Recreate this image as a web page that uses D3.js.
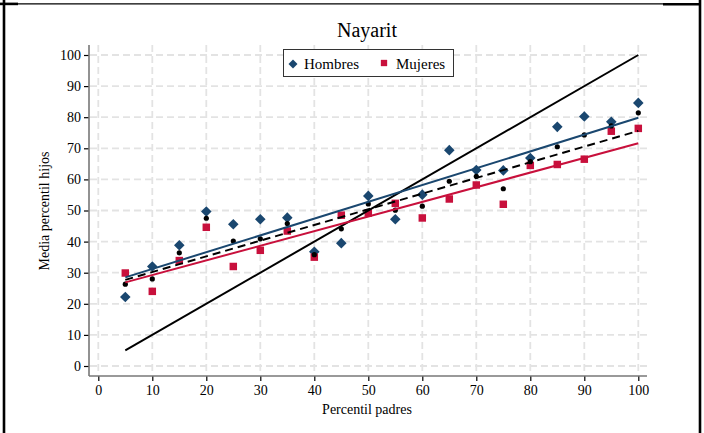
<!DOCTYPE html>
<html>
<head>
<meta charset="utf-8">
<script src="https://cdn.jsdelivr.net/npm/d3@7"></script>
<style>
  html, body { margin: 0; padding: 0; background: #fff; }
  svg { display: block; }
  text { font-family: "Liberation Serif", "Times New Roman", serif; fill: #000; }
</style>
</head>
<body>
<svg id="chart" width="704" height="433"></svg>
<script>
// Parent percentile groups
const percentiles = [5, 10, 15, 20, 25, 30, 35, 40, 45, 50, 55, 60, 65, 70, 75, 80, 85, 90, 95, 100];
// Mean child percentile by group
const hombres = [22.2, 32.0, 38.8, 49.7, 45.6, 47.2, 47.7, 36.7, 39.5, 54.7, 47.2, 55.1, 69.4, 63.0, 62.9, 66.9, 76.9, 80.2, 78.5, 84.6];
const mujeres = [29.9, 24.0, 33.9, 44.6, 32.0, 37.2, 43.4, 35.0, 48.5, 49.2, 52.3, 47.6, 53.7, 58.2, 52.0, 64.5, 64.8, 66.5, 75.5, 76.4];
const total   = [26.3, 28.0, 36.4, 47.5, 40.2, 40.9, 45.8, 35.8, 44.1, 52.1, 50.1, 51.4, 59.4, 61.0, 57.0, 65.7, 70.5, 74.3, 77.2, 81.4];
// Linear fits, value at each end of the range
const fitX       = [5, 100];
const fitHombres = [28.5, 79.8];
const fitMujeres = [26.9, 71.6];
const fitTotal   = [27.7, 75.6];
const diagonal   = [5, 100];
// Axis ticks
const xTicks = [0, 10, 20, 30, 40, 50, 60, 70, 80, 90, 100];
const yTicks = [0, 10, 20, 30, 40, 50, 60, 70, 80, 90, 100];

const colHombres = "#1a476f";
const colMujeres = "#c8103c";

const svg = d3.select("#chart");

// Outer frame
const frame = svg.append("g").attr("stroke", "#000").attr("fill", "none");
frame.append("line").attr("x1", 4).attr("x2", 4).attr("y1", 0).attr("y2", 433).attr("stroke-width", 2.6);
frame.append("line").attr("x1", 700).attr("x2", 700).attr("y1", 0).attr("y2", 433).attr("stroke-width", 2.6);
frame.append("line").attr("x1", 0).attr("x2", 700).attr("y1", 3.8).attr("y2", 3.8).attr("stroke-width", 1.2);
frame.append("line").attr("x1", 0).attr("x2", 18).attr("y1", 3.9).attr("y2", 3.9).attr("stroke-width", 2.6);
frame.append("line").attr("x1", 663).attr("x2", 701).attr("y1", 4.2).attr("y2", 4.2).attr("stroke-width", 2.6);

const x = d3.scaleLinear().domain([0, 100]).range([98.3, 638.3]);
const y = d3.scaleLinear().domain([0, 100]).range([366, 55]);

const plotLeft = 89, plotRight = 647, plotTop = 45, plotBottom = 376;

// Grid
const grid = svg.append("g").attr("stroke", "#e3e3e3").attr("stroke-width", 1.8).attr("stroke-dasharray", "7,4");
grid.selectAll("line.h").data(yTicks).join("line")
  .attr("x1", plotLeft + 1).attr("x2", plotRight)
  .attr("y1", d => y(d)).attr("y2", d => y(d));
grid.selectAll("line.v").data(xTicks).join("line")
  .attr("y1", plotTop).attr("y2", plotBottom - 1)
  .attr("x1", d => x(d)).attr("x2", d => x(d));

// Axes
const yAxis = svg.append("g").attr("transform", `translate(${plotLeft},0)`)
  .call(d3.axisLeft(y).tickValues(yTicks).tickSize(5).tickPadding(3));
yAxis.select(".domain").remove();
const xAxis = svg.append("g").attr("transform", `translate(0,${plotBottom})`)
  .call(d3.axisBottom(x).tickValues(xTicks).tickSize(5).tickPadding(4));
xAxis.select(".domain").remove();
svg.selectAll(".tick text").style("font-family", '"Liberation Serif", serif').style("font-size", "14px").attr("fill", "#000");
svg.selectAll(".tick line").attr("stroke", "#000").attr("stroke-width", 1.2);

svg.append("line").attr("x1", plotLeft).attr("x2", plotLeft).attr("y1", plotTop).attr("y2", plotBottom)
  .attr("stroke", "#777").attr("stroke-width", 1.6);
svg.append("line").attr("x1", plotLeft).attr("x2", plotRight).attr("y1", plotBottom).attr("y2", plotBottom)
  .attr("stroke", "#777").attr("stroke-width", 1.6);

// Points: diamonds (Hombres), squares (Mujeres), dots (total)
svg.append("g").selectAll("path").data(percentiles).join("path")
  .attr("d", d3.symbol().type(d3.symbolSquare).size(56)())
  .attr("transform", (d, i) => `translate(${x(d)},${y(hombres[i])}) rotate(45)`)
  .attr("fill", colHombres);
svg.append("g").selectAll("path").data(percentiles).join("path")
  .attr("d", d3.symbol().type(d3.symbolSquare).size(56)())
  .attr("transform", (d, i) => `translate(${x(d)},${y(mujeres[i])})`)
  .attr("fill", colMujeres);
svg.append("g").selectAll("circle").data(percentiles).join("circle")
  .attr("cx", d => x(d)).attr("cy", (d, i) => y(total[i])).attr("r", 2.6)
  .attr("fill", "#000");

// Fitted lines and 45-degree reference
const line = d3.line().x(d => x(d[0])).y(d => y(d[1]));
svg.append("path").datum(d3.zip(diagonal, diagonal)).attr("d", line)
  .attr("fill", "none").attr("stroke", "#000").attr("stroke-width", 2);
svg.append("path").datum(d3.zip(fitX, fitHombres)).attr("d", line)
  .attr("fill", "none").attr("stroke", colHombres).attr("stroke-width", 2);
svg.append("path").datum(d3.zip(fitX, fitMujeres)).attr("d", line)
  .attr("fill", "none").attr("stroke", colMujeres).attr("stroke-width", 2);
svg.append("path").datum(d3.zip(fitX, fitTotal)).attr("d", line)
  .attr("fill", "none").attr("stroke", "#000").attr("stroke-width", 2).attr("stroke-dasharray", "8,5");

// Title and axis titles
svg.append("text").attr("x", 367).attr("y", 37).attr("text-anchor", "middle")
  .style("font-size", "20px").text("Nayarit");
svg.append("text").attr("x", 367).attr("y", 414).attr("text-anchor", "middle")
  .style("font-size", "14px").text("Percentil padres");
svg.append("text").attr("transform", "translate(49,211) rotate(-90)").attr("text-anchor", "middle")
  .style("font-size", "14px").text("Media percentil hijos");

// Legend
const legend = svg.append("g");
legend.append("rect").attr("x", 283.5).attr("y", 49.5).attr("width", 170).attr("height", 27)
  .attr("fill", "#fff").attr("stroke", "#333").attr("stroke-width", 1);
legend.append("path").attr("d", d3.symbol().type(d3.symbolSquare).size(40)())
  .attr("transform", "translate(293,64) rotate(45)").attr("fill", colHombres);
legend.append("text").attr("x", 304).attr("y", 69).style("font-size", "15px").text("Hombres");
legend.append("path").attr("d", d3.symbol().type(d3.symbolSquare).size(40)())
  .attr("transform", "translate(384,63)").attr("fill", colMujeres);
legend.append("text").attr("x", 396).attr("y", 69).style("font-size", "15px").text("Mujeres");
</script>
</body>
</html>
